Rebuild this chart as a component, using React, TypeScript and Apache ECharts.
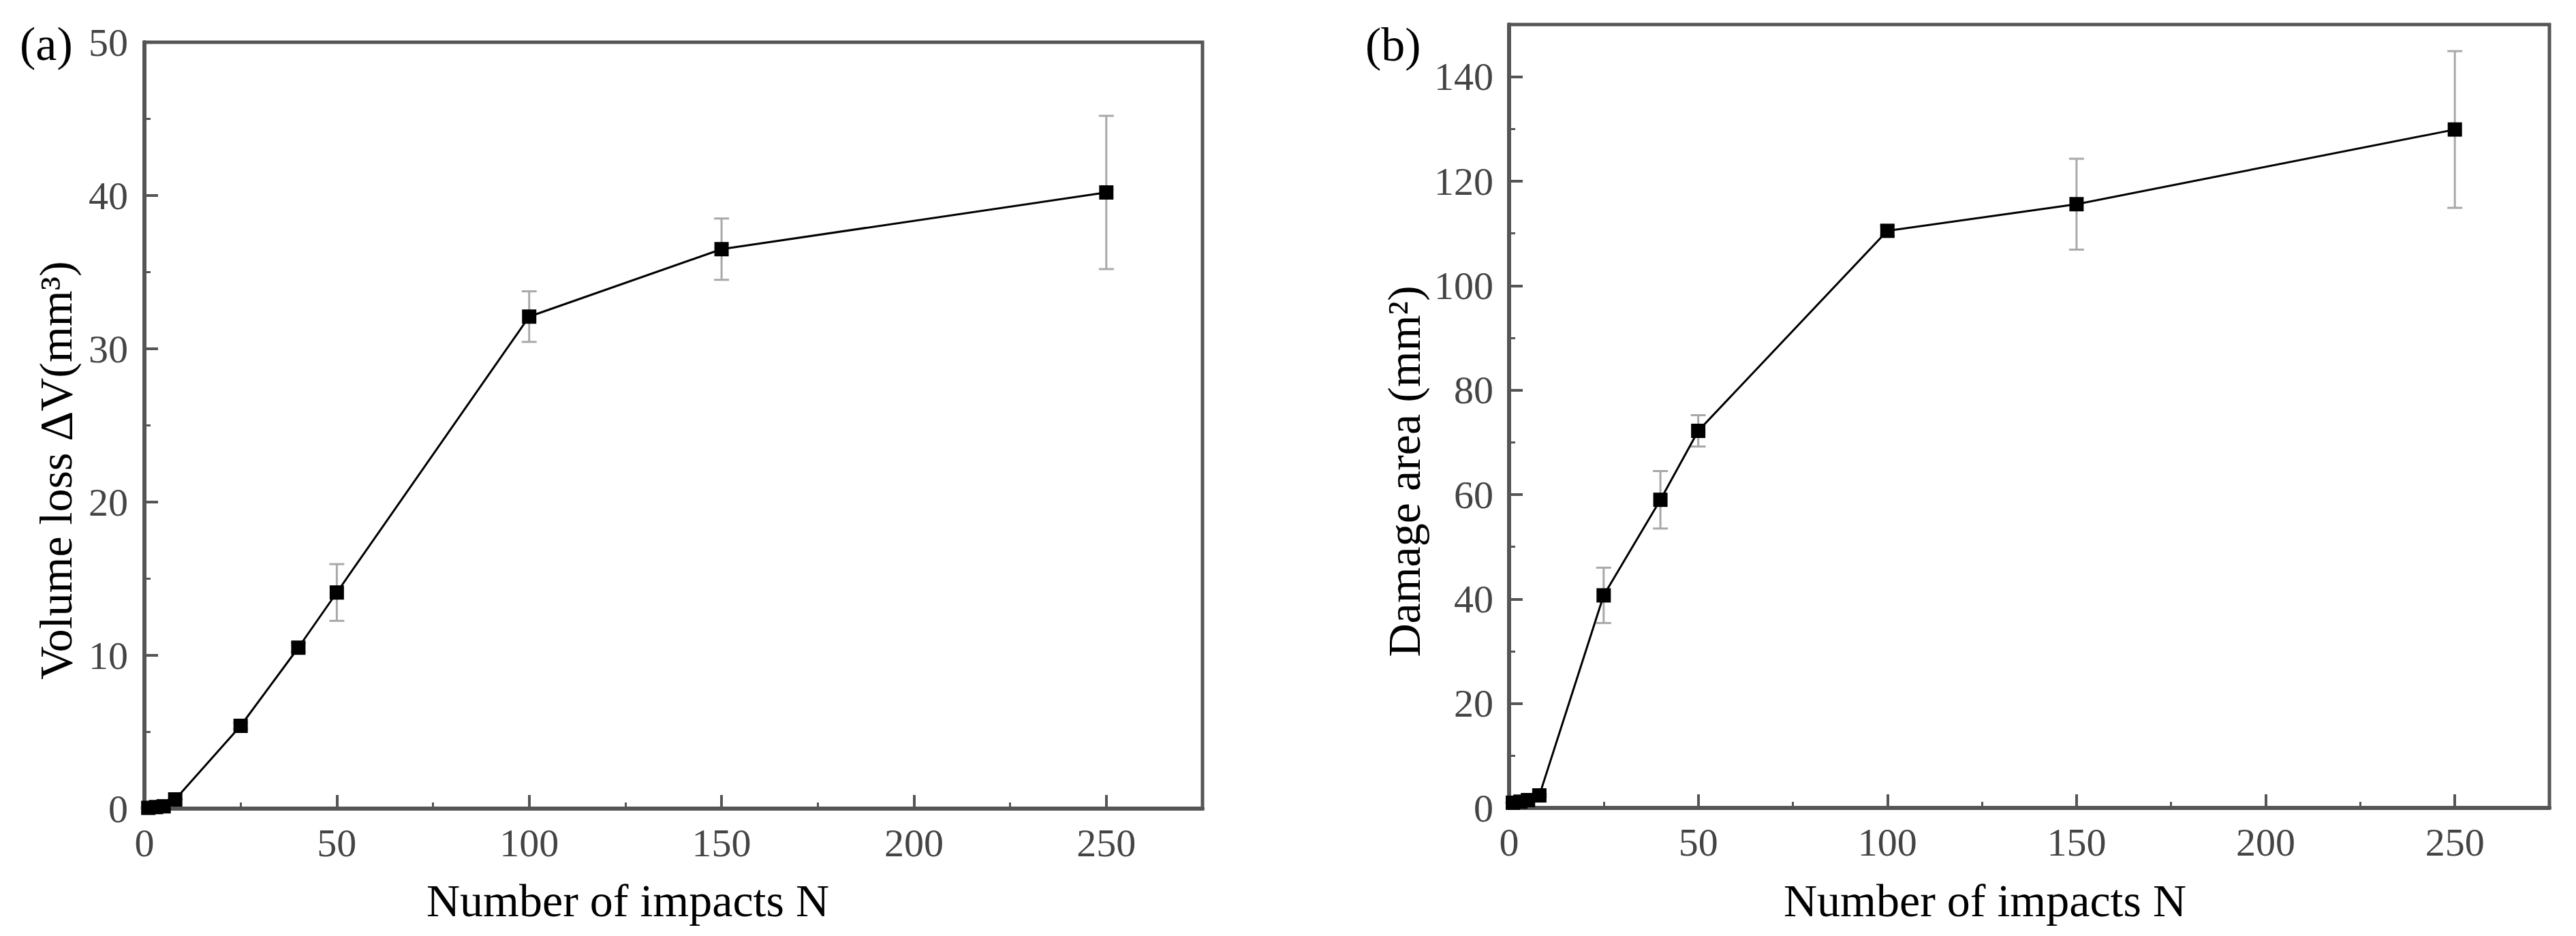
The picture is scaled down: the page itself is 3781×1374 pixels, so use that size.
import React, { useEffect, useRef } from 'react';
import * as echarts from 'echarts';

const impacts = [1, 3, 5, 8, 25, 40, 50, 100, 150, 250];
const volumeLoss = [0.05, 0.1, 0.15, 0.6, 5.4, 10.5, 14.1, 32.1, 36.5, 40.2];
const volumeErr = [0, 0, 0, 0, 0.2, 0.3, 1.85, 1.65, 2.0, 5.0];
const damageArea = [1.0, 1.2, 1.5, 2.4, 40.7, 59.0, 72.2, 110.5, 115.6, 129.9];
const damageErr = [0, 0, 0, 0.3, 5.3, 5.5, 3.0, 1.0, 8.7, 15.0];

const xMajorTicks = [0, 50, 100, 150, 200, 250];
const xMinorTicks = [25, 75, 125, 175, 225];
const yMajorTicksA = [0, 10, 20, 30, 40, 50];
const yMinorTicksA = [5, 15, 25, 35, 45];
const yMajorTicksB = [0, 20, 40, 60, 80, 100, 120, 140];
const yMinorTicksB = [10, 30, 50, 70, 90, 110, 130];

const FONT = '"Liberation Serif", "Times New Roman", serif';
const AXIS_COLOR = '#555';
const LABEL_COLOR = '#444';

function majorAxis(opts: any) {
  const { grid, min, max, ticks, name, nameGap, namePadding, isX, labelMargin } = opts;
  return {
    type: 'value',
    gridIndex: grid,
    min,
    max,
    position: isX ? 'bottom' : 'left',
    name,
    nameLocation: 'middle',
    nameGap,
    nameTextStyle: {
      fontFamily: FONT,
      fontSize: 68,
      color: '#000',
      padding: namePadding,
    },
    axisLine: { show: true, onZero: false, lineStyle: { color: AXIS_COLOR, width: 6 } },
    axisTick: {
      show: true,
      inside: true,
      length: 20,
      customValues: ticks,
      lineStyle: { color: AXIS_COLOR, width: 4 },
    },
    axisLabel: {
      show: true,
      customValues: ticks,
      fontFamily: FONT,
      fontSize: 58,
      color: LABEL_COLOR,
      margin: labelMargin,
    },
    splitLine: { show: false },
  };
}

function minorAxis(opts: any) {
  const { grid, min, max, ticks, isX } = opts;
  return {
    type: 'value',
    gridIndex: grid,
    min,
    max,
    position: isX ? 'bottom' : 'left',
    axisLine: { show: false, onZero: false },
    axisTick: {
      show: true,
      inside: true,
      length: 9,
      customValues: ticks,
      lineStyle: { color: AXIS_COLOR, width: 3 },
    },
    axisLabel: { show: false },
    splitLine: { show: false },
  };
}

function errorSeries(xIdx: number, yIdx: number, xs: number[], ys: number[], errs: number[]) {
  return {
    type: 'custom',
    xAxisIndex: xIdx,
    yAxisIndex: yIdx,
    z: 1,
    silent: true,
    data: xs.map((x, i) => [x, ys[i] - errs[i], ys[i] + errs[i]]),
    renderItem: (params: any, api: any) => {
      const x = api.value(0);
      const lo = api.coord([x, api.value(1)]);
      const hi = api.coord([x, api.value(2)]);
      const hw = 11;
      const style = { stroke: '#a8a8a8', lineWidth: 3, fill: 'none' };
      return {
        type: 'group',
        children: [
          { type: 'line', shape: { x1: lo[0], y1: lo[1], x2: hi[0], y2: hi[1] }, style },
          { type: 'line', shape: { x1: lo[0] - hw, y1: lo[1], x2: lo[0] + hw, y2: lo[1] }, style },
          { type: 'line', shape: { x1: hi[0] - hw, y1: hi[1], x2: hi[0] + hw, y2: hi[1] }, style },
        ],
      };
    },
  };
}

function lineSeries(xIdx: number, yIdx: number, xs: number[], ys: number[]) {
  return {
    type: 'line',
    xAxisIndex: xIdx,
    yAxisIndex: yIdx,
    z: 3,
    clip: false,
    data: xs.map((x, i) => [x, ys[i]]),
    symbol: 'rect',
    symbolSize: 21,
    showAllSymbol: true,
    itemStyle: { color: '#000' },
    lineStyle: { color: '#000', width: 3 },
  };
}

export default function App() {
  const ref = useRef<HTMLDivElement>(null);

  useEffect(() => {
    if (!ref.current) return;
    const chart = echarts.init(ref.current, null, { renderer: 'svg' });
    const option: any = {
      animation: false,
      backgroundColor: '#fff',
      grid: [
        {
          left: 212, top: 62, width: 1553, height: 1125,
          show: true, borderColor: AXIS_COLOR, borderWidth: 5, backgroundColor: 'transparent',
          containLabel: false,
        },
        {
          left: 2215, top: 36, width: 1527, height: 1150,
          show: true, borderColor: AXIS_COLOR, borderWidth: 5, backgroundColor: 'transparent',
          containLabel: false,
        },
      ],
      xAxis: [
        majorAxis({ grid: 0, min: 0, max: 275, ticks: xMajorTicks, name: 'Number of impacts N', nameGap: 101, namePadding: [0, 134, 0, 0], isX: true, labelMargin: 21 }),
        minorAxis({ grid: 0, min: 0, max: 275, ticks: xMinorTicks, isX: true }),
        majorAxis({ grid: 1, min: 0, max: 275, ticks: xMajorTicks, name: 'Number of impacts N', nameGap: 102, namePadding: [0, 130, 0, 0], isX: true, labelMargin: 21 }),
        minorAxis({ grid: 1, min: 0, max: 275, ticks: xMinorTicks, isX: true }),
      ],
      yAxis: [
        majorAxis({ grid: 0, min: 0, max: 50, ticks: yMajorTicksA, name: 'Volume loss ΔV(mm³)', nameGap: 96, namePadding: [0, 132, 0, 0], isX: false, labelMargin: 24 }),
        minorAxis({ grid: 0, min: 0, max: 50, ticks: yMinorTicksA, isX: false }),
        majorAxis({ grid: 1, min: 0, max: 150, ticks: yMajorTicksB, name: 'Damage area (mm²)', nameGap: 120, namePadding: [0, 162, 0, 0], isX: false, labelMargin: 23 }),
        minorAxis({ grid: 1, min: 0, max: 150, ticks: yMinorTicksB, isX: false }),
      ],
      graphic: [
        { type: 'text', x: 29, y: 64, style: { text: '(a)', fontSize: 70, fontFamily: FONT, fill: '#000', align: 'left', verticalAlign: 'middle' } },
        { type: 'text', x: 2004, y: 65, style: { text: '(b)', fontSize: 70, fontFamily: FONT, fill: '#000', align: 'left', verticalAlign: 'middle' } },
      ],
      series: [
        errorSeries(0, 0, impacts, volumeLoss, volumeErr),
        lineSeries(0, 0, impacts, volumeLoss),
        errorSeries(2, 2, impacts, damageArea, damageErr),
        lineSeries(2, 2, impacts, damageArea),
      ],
    };
    chart.setOption(option);
    return () => chart.dispose();
  }, []);

  return (
    <div
      ref={ref}
      style={{ position: 'absolute', left: 0, top: 0, width: '3781px', height: '1374px' }}
    />
  );
}
